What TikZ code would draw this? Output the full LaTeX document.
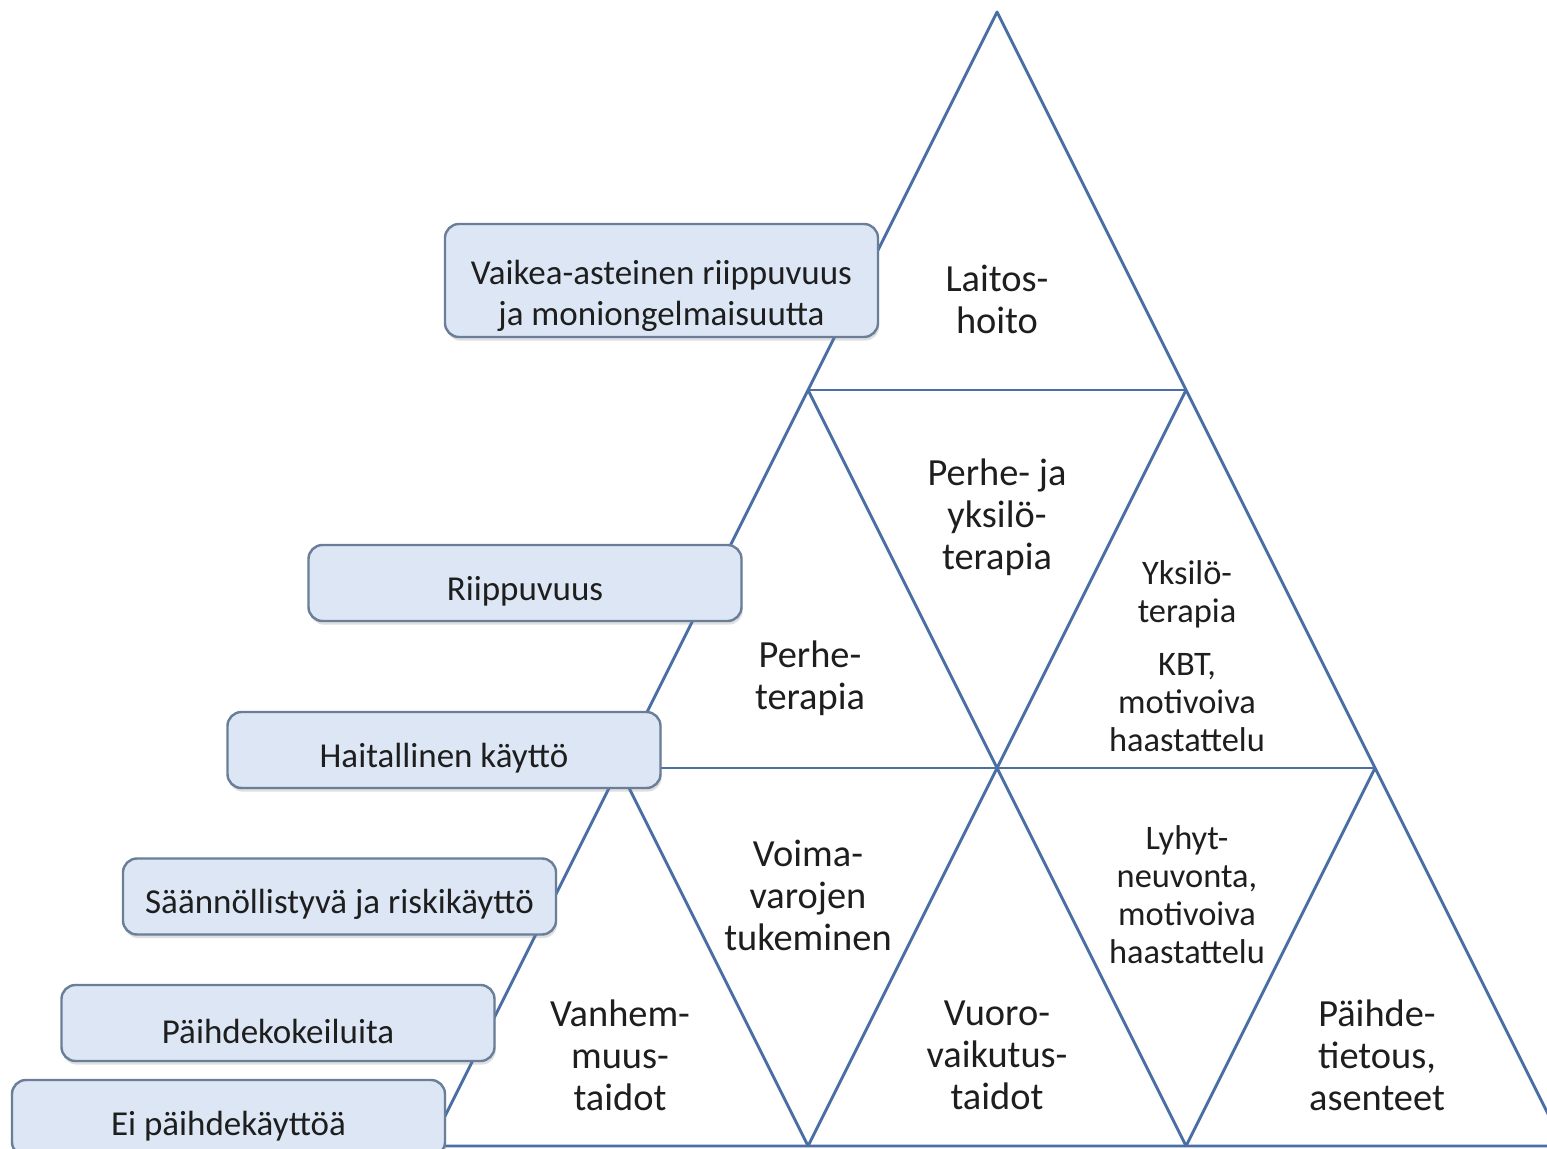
\documentclass[tikz,border=0pt]{standalone}
\usepackage{fontspec}
\setmainfont{Carlito}
\usetikzlibrary{shadows}
\definecolor{triline}{HTML}{4A6FA5}
\definecolor{boxfill}{HTML}{DCE6F4}
\definecolor{boxline}{HTML}{6A7E99}
\definecolor{txt}{HTML}{1E1E1E}
\newcommand{\lowtext}[2]{\raisebox{-#1}[\height][\depth]{#2}}
\begin{document}
\begin{tikzpicture}[x=0.5pt,y=-0.5pt,
  triedge/.style={draw=triline, line width=1.45pt, line join=round},
  lbl/.style={draw=boxline, fill=boxfill, line width=1.2pt, rounded corners=7pt,
    minimum width=216.5pt, minimum height=38pt, text=txt,
    font=\fontsize{17.5}{20.5}\selectfont, align=center, inner sep=0pt,
    drop shadow={opacity=0.25, shadow xshift=0.6pt, shadow yshift=-1.8pt}},
  bigtxt/.style={text=txt, font=\fontsize{19.2}{21}\selectfont, align=center, inner sep=0pt},
  smalltxt/.style={text=txt, font=\fontsize{17.2}{19}\selectfont, align=center, inner sep=0pt}]
\useasboundingbox (0,0) rectangle (1547,1149);
\fill[white] (0,0) rectangle (1547,1149);
\clip (0,0) rectangle (1547,1149);
% vertices
\coordinate (A)  at (997,12);
\coordinate (L1) at (808,390);
\coordinate (R1) at (1186,390);
\coordinate (L2) at (619,768);
\coordinate (M2) at (997,768);
\coordinate (R2) at (1375,768);
\coordinate (L3) at (430,1146);
\coordinate (B1) at (808,1146);
\coordinate (B2) at (1186,1146);
\coordinate (R3) at (1564,1146);
% triangle grid
\draw[triedge] (L3) -- (A) -- (R3) -- cycle;
\draw[triedge] (L1) -- (R1);
\draw[triedge] (L2) -- (R2);
\draw[triedge] (L1) -- (B2);
\draw[triedge] (R1) -- (B1);
\draw[triedge] (L2) -- (B1);
\draw[triedge] (R2) -- (B2);
% texts in triangles
\node[bigtxt] (t1) at (997,299) {Laitos-\\hoito};
\node[bigtxt] (t2) at (997,517) {Perhe- ja\\yksilö-\\terapia};
\node[bigtxt] (t3) at (810,678) {Perhe-\\terapia};
\node[smalltxt] (t4) at (1187,594) {Yksilö-\\terapia};
\node[smalltxt] (t5) at (1187,703) {KBT,\\motivoiva\\haastattelu};
\node[bigtxt] (t6) at (808,895) {Voima-\\varojen\\tukeminen};
\node[smalltxt] (t7) at (1187,895) {Lyhyt-\\neuvonta,\\motivoiva\\haastattelu};
\node[bigtxt] (t8) at (620,1055) {Vanhem-\\muus-\\taidot};
\node[bigtxt] (t9) at (997,1055) {Vuoro-\\vaikutus-\\taidot};
\node[bigtxt] (t10) at (1377,1055) {Päihde-\\tietous,\\asenteet};
% label boxes
\node[lbl, minimum height=56.5pt] (b1) at (661.5,280.5) {\lowtext{7.5pt}{Vaikea-asteinen riippuvuus}\\\lowtext{7.5pt}{ja moniongelmaisuutta}};
\node[lbl] (b2) at (525,583) {\lowtext{4pt}{Riippuvuus}};
\node[lbl] (b3) at (444,750) {\lowtext{4pt}{Haitallinen käyttö}};
\node[lbl] (b4) at (339.5,896.5) {\lowtext{4pt}{Säännöllistyvä ja riskikäyttö}};
\node[lbl] (b5) at (278,1023) {\lowtext{4pt}{Päihdekokeiluita}};
\node[lbl] (b6) at (228.5,1118) {\lowtext{4pt}{Ei päihdekäyttöä}};
\end{tikzpicture}
\end{document}
